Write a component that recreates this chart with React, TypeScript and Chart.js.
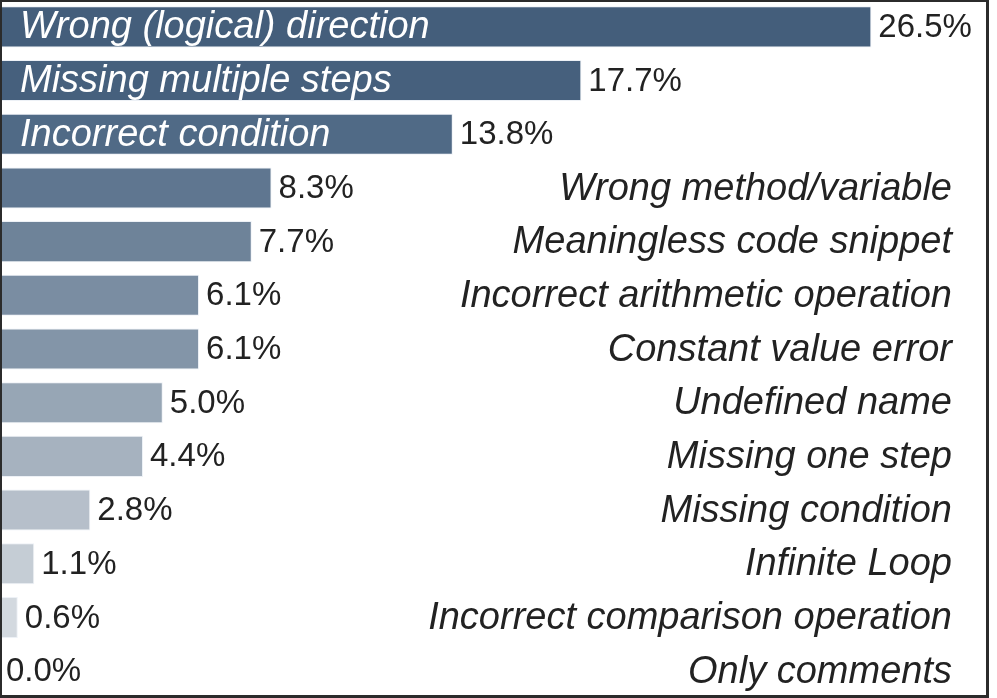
import React, { useEffect, useRef } from "react";
import { Chart, registerables } from "chart.js";

Chart.register(...registerables);

const categories = [
  "Wrong (logical) direction",
  "Missing multiple steps",
  "Incorrect condition",
  "Wrong method/variable",
  "Meaningless code snippet",
  "Incorrect arithmetic operation",
  "Constant value error",
  "Undefined name",
  "Missing one step",
  "Missing condition",
  "Infinite Loop",
  "Incorrect comparison operation",
  "Only comments",
];

const percentages = [26.5, 17.7, 13.8, 8.3, 7.7, 6.1, 6.1, 5.0, 4.4, 2.8, 1.1, 0.6, 0.0];

const barColors = [
  "#445e7b",
  "#46607d",
  "#506a86",
  "#5f7690",
  "#6e8399",
  "#7a8da2",
  "#8395a8",
  "#97a6b5",
  "#a6b2bf",
  "#b6bfca",
  "#c5cdd5",
  "#d3d9df",
  "#e2e6ea",
];

const FONT = "33px 'Liberation Sans', Arial, sans-serif";
const FONT_IT = "italic 38px 'Liberation Sans', Arial, sans-serif";

const labelPlugin = {
  id: "barLabels",
  afterDatasetsDraw(chart: any) {
    const ctx = chart.ctx;
    const meta = chart.getDatasetMeta(0);
    const area = chart.chartArea;
    ctx.save();
    ctx.textBaseline = "middle";
    meta.data.forEach((bar: any, i: number) => {
      const v = percentages[i];
      const name = categories[i];
      const x0 = bar.base;
      const x1 = bar.x;
      const y = bar.y;
      // value label
      ctx.font = FONT;
      ctx.fillStyle = "#222222";
      ctx.textAlign = "left";
      const vx = v > 0 ? x1 + 7 : x0 + 8;
      ctx.fillText(v.toFixed(1) + "%", vx, y + 1);
      // category label
      ctx.font = FONT_IT;
      const w = ctx.measureText(name).width;
      if (w + 30 < x1 - x0) {
        ctx.fillStyle = "#ffffff";
        ctx.textAlign = "left";
        ctx.fillText(name, x0 + 22, y + 1);
      } else {
        ctx.fillStyle = "#222222";
        ctx.textAlign = "right";
        ctx.fillText(name, area.right - 38, y + 1);
      }
    });
    ctx.restore();
  },
};

export default function App() {
  const ref = useRef<HTMLCanvasElement | null>(null);

  useEffect(() => {
    document.body.style.margin = "0";
    if (!ref.current) return;
    const chart = new Chart(ref.current, {
      type: "bar",
      data: {
        labels: categories,
        datasets: [
          {
            data: percentages,
            backgroundColor: barColors,
            borderColor: "rgba(235,240,245,0.9)",
            borderWidth: 1,
            barPercentage: 0.765,
            categoryPercentage: 1,
          },
        ],
      },
      options: {
        indexAxis: "y",
        animation: false,
        responsive: false,
        maintainAspectRatio: false,
        layout: { padding: 0 },
        plugins: {
          legend: { display: false },
          tooltip: { enabled: false },
        },
        scales: {
          x: { display: false, min: 0, max: 30.1 },
          y: { display: false },
        },
      },
      plugins: [labelPlugin],
    });
    return () => chart.destroy();
  }, []);

  return (
    <div
      style={{
        position: "relative",
        width: 989,
        height: 698,
        overflow: "hidden",
        background: "#ffffff",
      }}
    >
      <canvas
        ref={ref}
        width={992}
        height={698}
        style={{ position: "absolute", left: -2, top: 0, width: 992, height: 698 }}
      />
      <div
        style={{
          position: "absolute",
          inset: 0,
          boxSizing: "border-box",
          borderStyle: "solid",
          borderColor: "#2b2b2b",
          borderWidth: "2px 3px 3px 2px",
          pointerEvents: "none",
        }}
      />
    </div>
  );
}
